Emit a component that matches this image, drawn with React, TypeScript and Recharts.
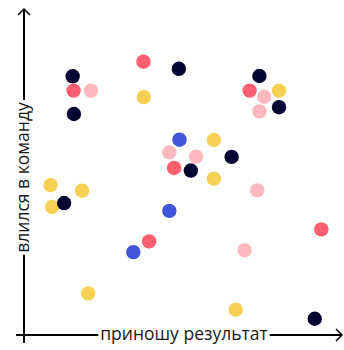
import React, { useLayoutEffect, useRef, useState } from "react";
import { ScatterChart, Scatter, XAxis, YAxis } from "recharts";

const xLabel = "приношу результат";
const yLabel = "влился в команду";

// x = "приношу результат", y = "влился в команду", both 0..100
const navyX = [15.4, 15.8, 49.0, 74.5, 80.7, 65.7, 52.8, 12.7, 92.0];
const navyY = [79.6, 68.0, 81.9, 79.7, 70.1, 54.8, 50.6, 40.6, 5.0];
const coralX = [15.7, 37.8, 71.4, 47.5, 39.6, 94.1];
const coralY = [75.2, 84.1, 75.2, 51.4, 28.8, 32.5];
const pinkX = [21.2, 76.0, 74.5, 46.0, 54.5, 73.8, 69.8];
const pinkY = [75.2, 73.3, 68.8, 56.2, 54.9, 44.5, 26.1];
const yellowX = [37.9, 80.7, 60.1, 60.1, 8.4, 18.4, 8.9, 20.3, 67.0];
const yellowY = [73.2, 75.2, 60.0, 48.1, 46.1, 44.4, 39.4, 12.8, 7.8];
const blueX = [49.2, 46.0, 34.6];
const blueY = [60.1, 38.2, 25.5];

const toPoints = (xs: number[], ys: number[]) =>
  xs.map((x, i) => ({ x, y: ys[i] }));

const FONT = "'Open Sans', sans-serif";

// text with a white box behind it, so the axis line looks cut
const CutText = ({ x, y, text, rotate }: any) => {
  const ref = useRef<SVGTextElement>(null);
  const [box, setBox] = useState<any>(null);

  useLayoutEffect(() => {
    if (ref.current) {
      const b = ref.current.getBBox();
      setBox({ x: b.x, y: b.y, width: b.width, height: b.height });
    }
  }, [text]);

  const transform = rotate ? `rotate(-90, ${x}, ${y})` : undefined;
  return (
    <g transform={transform}>
      {box && (
        <rect
          x={box.x - 2}
          y={box.y}
          width={box.width + 4}
          height={box.height}
          fill="#fff"
        />
      )}
      <text
        ref={ref}
        x={x}
        y={y}
        textAnchor="middle"
        fontFamily={FONT}
        fontSize={17.5}
        fill="#1a1a1a"
      >
        {text}
      </text>
    </g>
  );
};

const XAxisArrow = (props: any) => {
  const { x, y, width } = props.viewBox;
  const end = x + width + 2;
  return (
    <g>
      <line x1={x - 8} y1={y} x2={end} y2={y} stroke="#000" strokeWidth={2} />
      <polyline
        points={`${end - 6},${y - 6} ${end},${y} ${end - 6},${y + 6}`}
        fill="none"
        stroke="#000"
        strokeWidth={1.5}
      />
      <CutText x={x + width / 2 + 2} y={y + 5} text={xLabel} />
    </g>
  );
};

const YAxisArrow = (props: any) => {
  const { x, y, width, height } = props.viewBox;
  const ax = x + width;
  const top = y - 1;
  return (
    <g>
      <line x1={ax} y1={y + height + 8} x2={ax} y2={top} stroke="#000" strokeWidth={2} />
      <polyline
        points={`${ax - 6},${top + 6} ${ax},${top} ${ax + 6},${top + 6}`}
        fill="none"
        stroke="#000"
        strokeWidth={1.5}
      />
      <CutText x={ax + 5} y={y + height / 2 + 5} text={yLabel} rotate />
    </g>
  );
};

const Dot = (props: any) => (
  <circle cx={props.cx} cy={props.cy} r={7.2} fill={props.fill} />
);

const series = [
  { name: "yellow", color: "#f6d154", data: toPoints(yellowX, yellowY) },
  { name: "pink", color: "#ffb8bd", data: toPoints(pinkX, pinkY) },
  { name: "coral", color: "#fe6072", data: toPoints(coralX, coralY) },
  { name: "blue", color: "#4155dc", data: toPoints(blueX, blueY) },
  { name: "navy", color: "#050533", data: toPoints(navyX, navyY) },
];

const App = () => {
  return (
    <div style={{ position: "absolute", left: 0, top: 0 }}>
      <ScatterChart
        width={344}
        height={350}
        margin={{ top: 10, right: 4, bottom: 0, left: 0 }}
      >
        <XAxis
          type="number"
          dataKey="x"
          domain={[0, 100]}
          height={15}
          axisLine={false}
          tick={false}
          tickLine={false}
          label={{ content: XAxisArrow }}
        />
        <YAxis
          type="number"
          dataKey="y"
          domain={[0, 100]}
          width={24}
          axisLine={false}
          tick={false}
          tickLine={false}
          label={{ content: YAxisArrow }}
        />
        {series.map((s) => (
          <Scatter
            key={s.name}
            name={s.name}
            data={s.data}
            fill={s.color}
            shape={Dot}
            isAnimationActive={false}
          />
        ))}
      </ScatterChart>
    </div>
  );
};

export default App;
